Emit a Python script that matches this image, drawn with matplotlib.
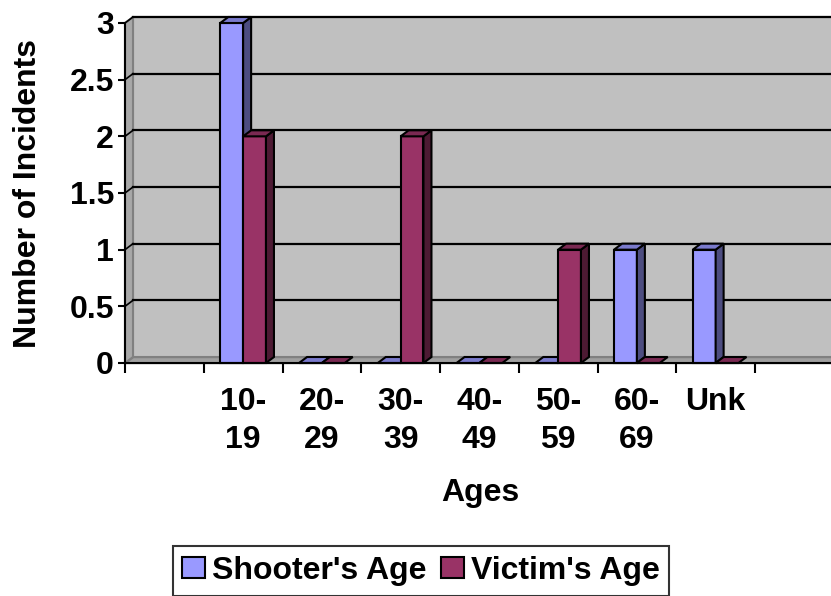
import matplotlib
matplotlib.use("Agg")
import matplotlib.pyplot as plt
from matplotlib.patches import Polygon, Patch
import numpy as np

# ---- data ----
categories = ["", "10-\n19", "20-\n29", "30-\n39", "40-\n49", "50-\n59", "60-\n69", "Unk", ""]
shooter = [0, 3, 0, 0, 0, 0, 1, 1, 0]
victim = [0, 2, 0, 2, 0, 1, 0, 0, 0]
draw_mask = [False, True, True, True, True, True, True, True, False]
series_names = ["Shooter's Age", "Victim's Age"]
yticks = [0, 0.5, 1, 1.5, 2, 2.5, 3]
ytick_labels = ["0", "0.5", "1", "1.5", "2", "2.5", "3"]

plt.rcParams['font.family'] = ['Liberation Sans', 'DejaVu Sans']
plt.rcParams['font.weight'] = 'bold'
FS = 23

W, H = 831, 596
fig = plt.figure(figsize=(W / 100, H / 100), dpi=100)

ax_left_px, ax_right_px = 125, 831
y0_px, y3_px = 363, 23
slot_px = 78.75
ax = fig.add_axes([ax_left_px / W, (H - y0_px) / H,
                   (ax_right_px - ax_left_px) / W, (y0_px - y3_px) / H])
ax.set_facecolor('none')
xmin = -0.5
xmax = xmin + (ax_right_px - ax_left_px) / slot_px
ax.set_xlim(xmin, xmax)
ax.set_ylim(0, 3)

px_y = (y0_px - y3_px) / 3.0
ddx = 8 / slot_px
ddy = 6 / px_y

# back wall
wall = Polygon([(xmin + ddx, ddy), (xmax + 1, ddy), (xmax + 1, 3 + ddy), (xmin + ddx, 3 + ddy)],
               closed=True, facecolor='#C0C0C0', edgecolor='#808080', lw=1.5, clip_on=False, zorder=0)
ax.add_patch(wall)
# side wall
side = Polygon([(xmin, 0), (xmin, 3), (xmin + ddx, 3 + ddy), (xmin + ddx, ddy)],
               closed=True, facecolor='#A8A8A8', edgecolor='#808080', lw=1.5, clip_on=False, zorder=1)
ax.add_patch(side)
# floor
floor = Polygon([(xmin, 0), (xmax + 1, 0), (xmax + 1, ddy), (xmin + ddx, ddy)],
                closed=True, facecolor='#A0A0A0', edgecolor='#808080', lw=1.0, clip_on=False, zorder=1)
ax.add_patch(floor)

# gridlines
for v in yticks[1:]:
    ax.plot([xmin + ddx, xmax + 1], [v + ddy, v + ddy], color='black', lw=1.6, zorder=2, clip_on=False)
    ax.plot([xmin, xmin + ddx], [v, v + ddy], color='black', lw=1.2, zorder=2, clip_on=False)

# bars
bw = 0.29
cols = [('#9999FF', '#4D4D80', '#7A7ACC'), ('#993366', '#4D1A33', '#7A2952')]
for i, (s, v) in enumerate(zip(shooter, victim)):
    if not draw_mask[i]:
        continue
    for j, val in enumerate([s, v]):
        x0 = i - bw + j * bw
        x1 = x0 + bw
        front, sidec, topc = cols[j]
        z = 3 + j
        if val > 0:
            ax.add_patch(Polygon([(x0, 0), (x1, 0), (x1, val), (x0, val)], closed=True,
                                 facecolor=front, edgecolor='black', lw=1.5, zorder=z, clip_on=False))
            ax.add_patch(Polygon([(x1, 0), (x1 + ddx, ddy), (x1 + ddx, val + ddy), (x1, val)], closed=True,
                                 facecolor=sidec, edgecolor='black', lw=1.5, zorder=z, clip_on=False))
        ax.add_patch(Polygon([(x0, val), (x1, val), (x1 + ddx, val + ddy), (x0 + ddx, val + ddy)], closed=True,
                             facecolor=topc, edgecolor='black', lw=1.5, zorder=z, clip_on=False))

# axes spines
for sp in ['top', 'right']:
    ax.spines[sp].set_visible(False)
ax.spines['left'].set_linewidth(1.5)
ax.spines['bottom'].set_linewidth(1.5)
ax.spines['left'].set_zorder(10)
ax.spines['bottom'].set_zorder(10)

ax.set_yticks(yticks)
ax.set_yticklabels(ytick_labels, fontsize=FS, fontweight='bold')
ax.tick_params(axis='y', length=5, width=1.5, pad=3)

bounds = np.arange(xmin, xmax, 1.0)
ax.set_xticks(bounds)
ax.set_xticklabels([])
ax.tick_params(axis='x', which='major', length=7, width=1.5)
ax.set_xticks(np.arange(len(categories)), minor=True)
ax.set_xticklabels(categories, minor=True, fontsize=FS, fontweight='bold', linespacing=1.35)
ax.tick_params(axis='x', which='minor', length=0, pad=17)

fig.text(28 / W, 1 - 193 / H, "Number of Incidents", rotation=90, ha='center', va='center',
         fontsize=FS, fontweight='bold')
fig.text(480 / W, 1 - 493 / H, "Ages", ha='center', va='center', fontsize=FS, fontweight='bold')

handles = [Patch(facecolor=cols[0][0], edgecolor='black', lw=1.5),
           Patch(facecolor=cols[1][0], edgecolor='black', lw=1.5)]
leg = fig.legend(handles, series_names, loc='center', bbox_to_anchor=(421 / W, 1 - 571 / H), ncol=2,
                 prop={'size': FS, 'weight': 'bold'}, frameon=True, fancybox=False,
                 handlelength=0.7, handleheight=0.65, handletextpad=0.22, columnspacing=0.47,
                 borderpad=0.3, borderaxespad=0)
leg.get_frame().set_edgecolor('black')
leg.get_frame().set_linewidth(1.5)

fig.savefig("out.png", dpi=100)
